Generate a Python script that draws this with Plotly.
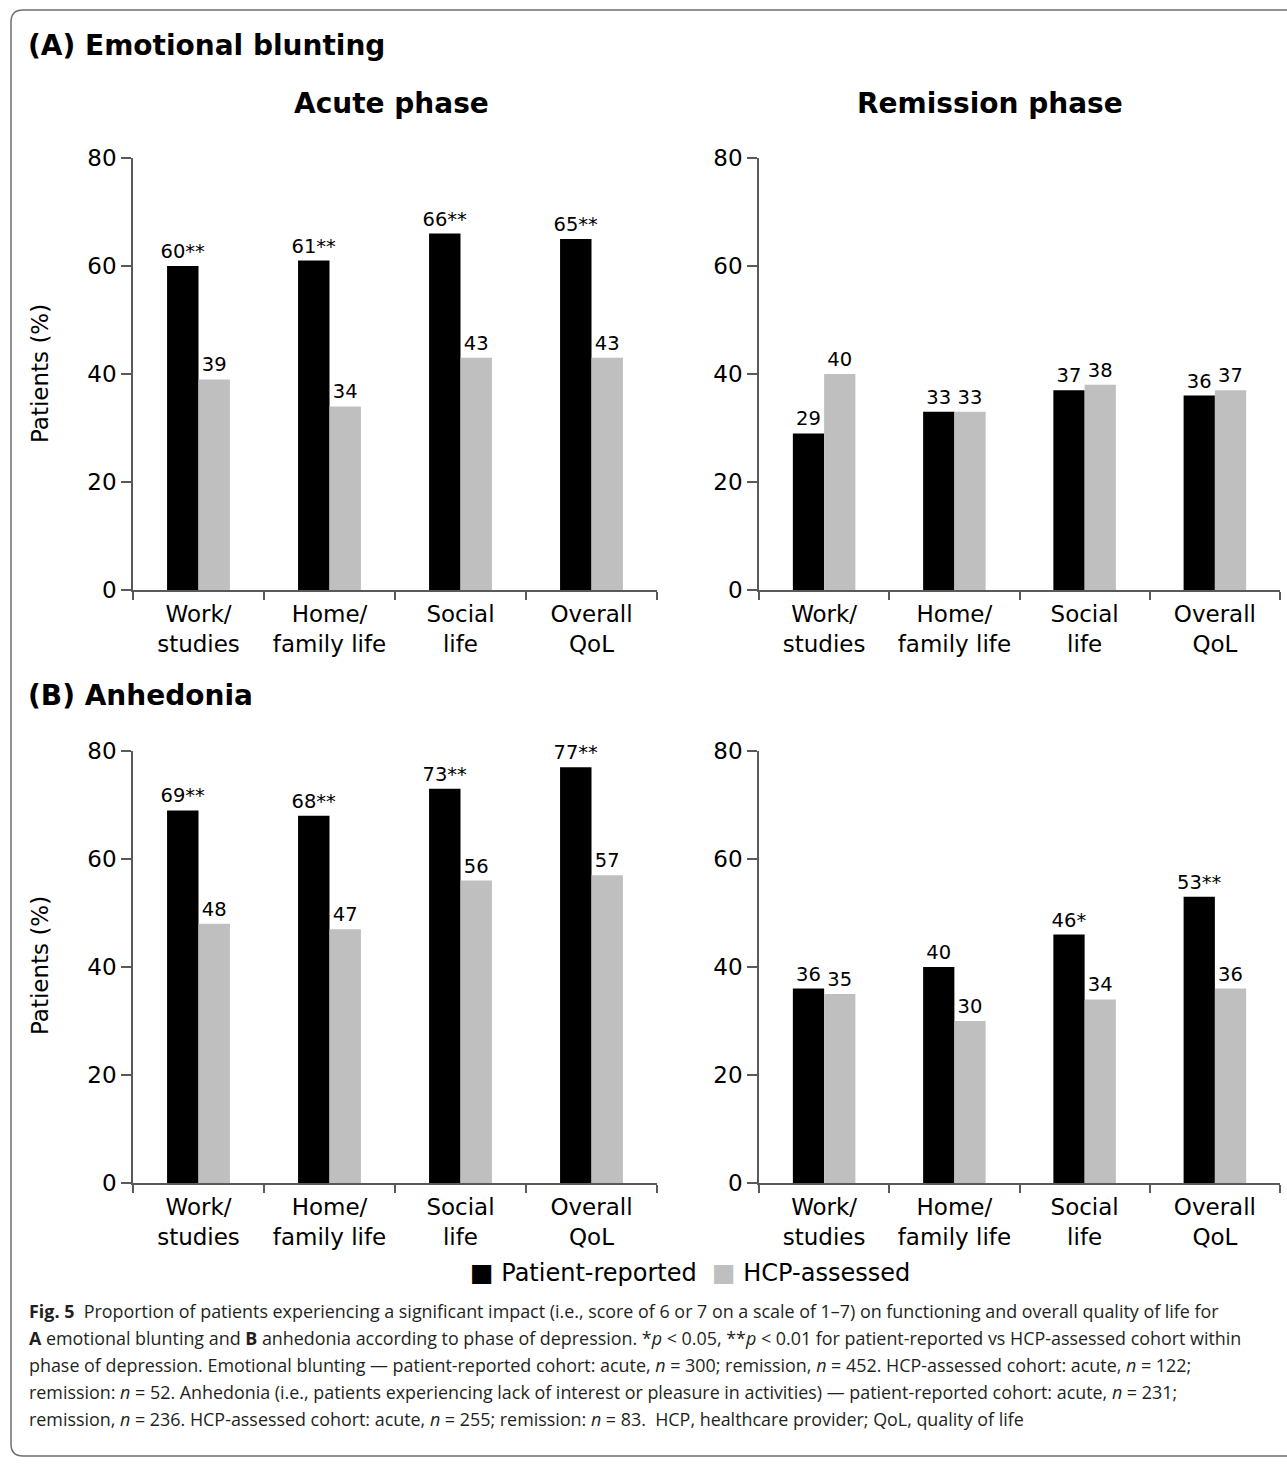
import plotly.graph_objects as go
from plotly.subplots import make_subplots

W, H = 1287, 1466

categories = ["Work/<br>studies", "Home/<br>family life", "Social<br>life", "Overall<br>QoL"]

# (A) Emotional blunting
a_acute_patient = [60, 61, 66, 65]
a_acute_patient_lbl = ["60**", "61**", "66**", "65**"]
a_acute_hcp = [39, 34, 43, 43]
a_rem_patient = [29, 33, 37, 36]
a_rem_patient_lbl = ["29", "33", "37", "36"]
a_rem_hcp = [40, 33, 38, 37]

# (B) Anhedonia
b_acute_patient = [69, 68, 73, 77]
b_acute_patient_lbl = ["69**", "68**", "73**", "77**"]
b_acute_hcp = [48, 47, 56, 57]
b_rem_patient = [36, 40, 46, 53]
b_rem_patient_lbl = ["36", "40", "46*", "53**"]
b_rem_hcp = [35, 30, 34, 36]

y_ticks = [0, 20, 40, 60, 80]
series_names = ["Patient-reported", "HCP-assessed"]

FONT = "DejaVu Sans, Liberation Sans, sans-serif"
BLACK = "#000000"
GREY = "#bfbfbf"
AXC = "#595959"

def px_x(p):
    return p / W

def px_y(p):
    return 1 - p / H

fig = make_subplots(rows=2, cols=2)

panels = [
    (1, 1, a_acute_patient, a_acute_patient_lbl, a_acute_hcp),
    (1, 2, a_rem_patient, a_rem_patient_lbl, a_rem_hcp),
    (2, 1, b_acute_patient, b_acute_patient_lbl, b_acute_hcp),
    (2, 2, b_rem_patient, b_rem_patient_lbl, b_rem_hcp),
]

for r, c, pv, pl, hv in panels:
    fig.add_trace(go.Bar(x=categories, y=pv, text=pl, name=series_names[0],
                         marker=dict(color=BLACK, line=dict(width=0)),
                         textposition="outside", cliponaxis=False, constraintext="none",
                         outsidetextfont=dict(family=FONT, size=19.5, color="black"),
                         showlegend=False), row=r, col=c)
    fig.add_trace(go.Bar(x=categories, y=hv, text=[str(v) for v in hv], name=series_names[1],
                         marker=dict(color=GREY, line=dict(width=0)),
                         textposition="outside", cliponaxis=False, constraintext="none",
                         outsidetextfont=dict(family=FONT, size=19.5, color="black"),
                         showlegend=False), row=r, col=c)

xdoms = {1: [px_x(133), px_x(657)], 2: [px_x(759), px_x(1280)]}
ydoms = {1: [px_y(590), px_y(158)], 2: [px_y(1183), px_y(751)]}

for r in (1, 2):
    for c in (1, 2):
        fig.update_xaxes(domain=xdoms[c], type="category", tickson="boundaries",
                         ticks="outside", ticklen=8, tickcolor=AXC, tickwidth=1.5,
                         ticklabelstandoff=3,
                         showline=True, linecolor=AXC, linewidth=1.5,
                         showgrid=False, zeroline=False, automargin=False,
                         tickfont=dict(family=FONT, size=23, color="black"),
                         row=r, col=c)
        fig.update_yaxes(domain=ydoms[r], range=[0, 80], tickvals=y_ticks,
                         ticks="outside", ticklen=10, tickcolor=AXC, tickwidth=1.5,
                         showline=True, linecolor=AXC, linewidth=1.5,
                         showgrid=False, zeroline=False, automargin=False,
                         tickfont=dict(family=FONT, size=23, color="black"),
                         row=r, col=c)

ann = []
def add_text(text, x, y, size, bold=False, xanchor="center", yanchor="middle", angle=0,
             font=FONT, color="black"):
    ann.append(dict(text=(f"<b>{text}</b>" if bold else text), x=px_x(x), y=px_y(y),
                    xref="paper", yref="paper", showarrow=False, xanchor=xanchor,
                    yanchor=yanchor, textangle=angle,
                    font=dict(family=font, size=size, color=color)))

add_text("(A) Emotional blunting", 26, 45, 28, bold=True, xanchor="left")
add_text("Acute phase", 391, 103, 28, bold=True)
add_text("Remission phase", 990, 103, 28, bold=True)
add_text("(B) Anhedonia", 26, 695, 28, bold=True, xanchor="left")
add_text("Patients (%)", 40, 374, 23, angle=-90)
add_text("Patients (%)", 40, 966, 23, angle=-90)

# legend drawn as text with coloured square glyphs
legend_txt = (f"<span style='color:{BLACK};font-size:25px'>■</span> {series_names[0]}  "
              f"<span style='color:{GREY};font-size:25px'>■</span> {series_names[1]}")
add_text(legend_txt, 690, 1272, 24)

CAP = "Open Sans, Noto Sans, sans-serif"
caption = [
    "<b>Fig. 5</b>  Proportion of patients experiencing a significant impact (i.e., score of 6 or 7 on a scale of 1–7) on functioning and overall quality of life for",
    "<b>A</b> emotional blunting and <b>B</b> anhedonia according to phase of depression. *<i>p</i> &lt; 0.05, **<i>p</i> &lt; 0.01 for patient-reported vs HCP-assessed cohort within",
    "phase of depression. Emotional blunting — patient-reported cohort: acute, <i>n</i> = 300; remission, <i>n</i> = 452. HCP-assessed cohort: acute, <i>n</i> = 122;",
    "remission: <i>n</i> = 52. Anhedonia (i.e., patients experiencing lack of interest or pleasure in activities) — patient-reported cohort: acute, <i>n</i> = 231;",
    "remission, <i>n</i> = 236. HCP-assessed cohort: acute, <i>n</i> = 255; remission: <i>n</i> = 83.  HCP, healthcare provider; QoL, quality of life",
]
for i, line in enumerate(caption):
    add_text(line, 27, 1311 + 27 * i, 17.9, xanchor="left", font=CAP, color="#231f20")

# rounded border
L, T, R, B, rad = 11, 10, 1300, 1456, 12
def P(x, y):
    return f"{px_x(x):.5f},{px_y(y):.5f}"
path = (f"M {P(R, T)} L {P(L + rad, T)} Q {P(L, T)} {P(L, T + rad)} "
        f"L {P(L, B - rad)} Q {P(L, B)} {P(L + rad, B)} L {P(R, B)}")

fig.update_layout(
    width=W, height=H,
    margin=dict(l=0, r=0, t=0, b=0, pad=0, autoexpand=False),
    paper_bgcolor="white", plot_bgcolor="white",
    barmode="group", bargap=0.52, bargroupgap=0,
    font=dict(family=FONT, color="black"),
    annotations=ann,
    shapes=[dict(type="path", path=path, xref="paper", yref="paper",
                 line=dict(color="#6e6e6e", width=1.5))],
    showlegend=False,
)

fig.write_html("out.html", config={"displayModeBar": False},
               post_script="document.body.style.margin='0px';")
